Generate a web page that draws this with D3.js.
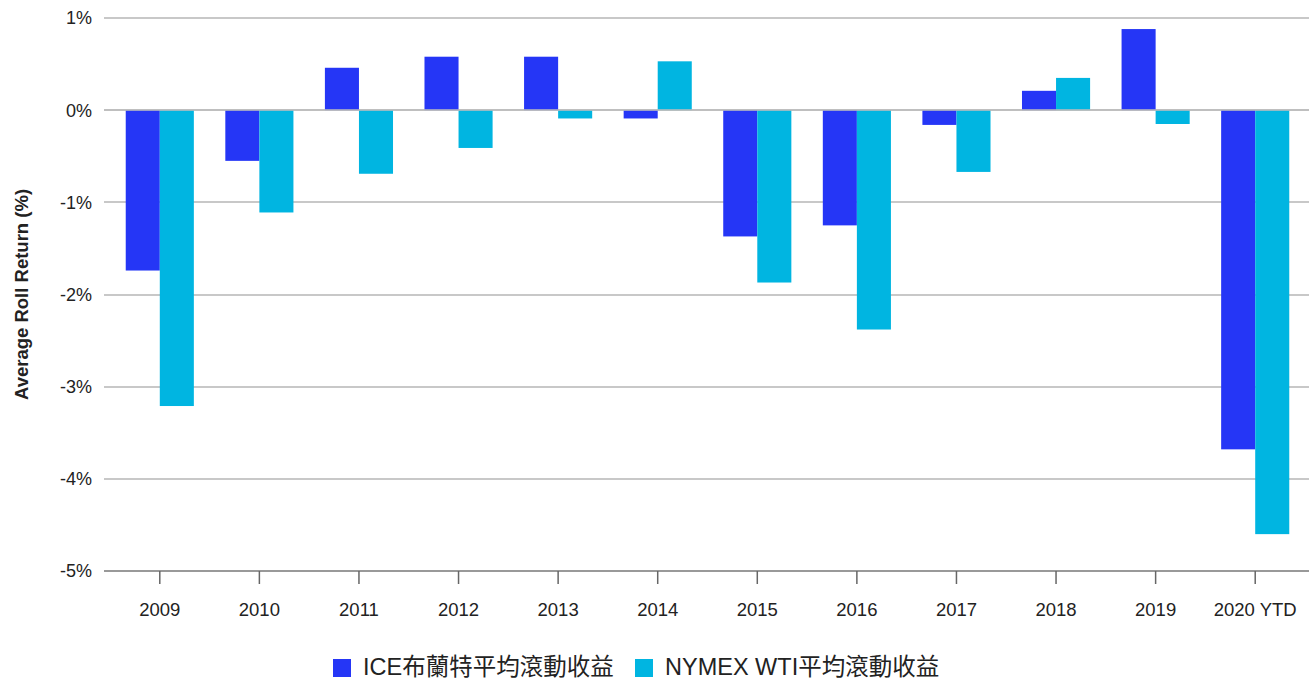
<!DOCTYPE html>
<meta charset="utf-8">
<style>
body { margin:0; background:#fff; font-family:"Liberation Sans",Arial,sans-serif; }
.grid line { stroke:#c8c8c8; stroke-width:1.5px; shape-rendering:crispEdges; }
</style>
<body>
<svg width="1309" height="680"></svg>
<script src="https://d3js.org/d3.v7.min.js"></script>
<script>
var years = ["2009","2010","2011","2012","2013","2014","2015","2016","2017","2018","2019","2020 YTD"];
var iceBrent = [-1.74, -0.55, 0.46, 0.58, 0.58, -0.09, -1.37, -1.25, -0.16, 0.21, 0.88, -3.68];
var nymexWti = [-3.21, -1.11, -0.69, -0.41, -0.09, 0.53, -1.87, -2.38, -0.67, 0.35, -0.15, -4.60];
var yTicks = [1, 0, -1, -2, -3, -4, -5];
var seriesNames = ["ICE布蘭特平均滾動收益", "NYMEX WTI平均滾動收益"];
var colors = ["#2536f6", "#00b5e1"];

var font = "'Liberation Sans', Arial, sans-serif";
var svg = d3.select("svg");

var x = d3.scaleBand().domain(years).range([110, 1305]).paddingInner(0.316).paddingOuter(0.158);
var y = d3.scaleLinear().domain([-5, 1]).range([571, 18]);

// gridlines
svg.append("g").attr("class", "grid")
  .selectAll("line").data(yTicks.filter(function(d){ return d !== -5; }))
  .enter().append("line")
    .attr("x1", 104).attr("x2", 1309)
    .attr("y1", function(d){ return Math.round(y(d)); })
    .attr("y2", function(d){ return Math.round(y(d)); });

// y labels
svg.append("g").selectAll("text").data(yTicks).enter().append("text")
  .attr("x", 92).attr("y", function(d){ return y(d); })
  .attr("dy", "0.36em").attr("text-anchor", "end")
  .attr("font-size", 18).attr("font-family", font).attr("fill", "#222")
  .text(function(d){ return d + "%"; });

svg.append("text")
  .attr("transform", "translate(28," + y(-2) + ") rotate(-90)")
  .attr("text-anchor", "middle")
  .attr("font-size", 18.5).attr("font-weight", "bold").attr("font-family", font).attr("fill", "#222")
  .text("Average Roll Return (%)");

var data = years.map(function(d, i){ return {year:d, vals:[iceBrent[i], nymexWti[i]]}; });
var xs = d3.scaleBand().domain([0,1]).range([0, x.bandwidth()]);

var groups = svg.append("g").selectAll("g").data(data).enter().append("g")
  .attr("transform", function(d){ return "translate(" + x(d.year) + ",0)"; });
groups.selectAll("rect").data(function(d){ return d.vals; }).enter().append("rect")
  .attr("x", function(d, i){ return xs(i); })
  .attr("width", xs.bandwidth())
  .attr("y", function(d){ return y(Math.max(0, d)); })
  .attr("height", function(d){ return Math.abs(y(d) - y(0)); })
  .attr("fill", function(d, i){ return colors[i]; });

// bottom axis
var xAxis = d3.axisBottom(x).tickSize(13).tickSizeOuter(0).tickPadding(19);
var ax = svg.append("g").attr("transform", "translate(0,571)").call(xAxis);
ax.select(".domain").attr("d", "M104,0H1309").attr("stroke", "#777").attr("stroke-width", 1.5);
ax.selectAll(".tick line").attr("stroke", "#666").attr("stroke-width", 1.5);
ax.selectAll(".tick text").attr("font-size", 18.5).attr("font-family", font).attr("fill", "#222");

// zero line on top
svg.append("line").attr("x1", 104).attr("x2", 1309)
  .attr("y1", Math.round(y(0))).attr("y2", Math.round(y(0)))
  .attr("stroke", "#bdbdbd").attr("stroke-width", 1.5);

// legend
var legX = [333, 635];
var leg = svg.append("g").selectAll("g").data(seriesNames).enter().append("g")
  .attr("transform", function(d, i){ return "translate(" + legX[i] + ",659)"; });
leg.append("rect").attr("width", 18).attr("height", 18)
  .attr("fill", function(d, i){ return colors[i]; });
leg.append("text").attr("x", 30).attr("y", 16)
  .attr("font-size", 23.5).attr("fill", "#222")
  .attr("font-family", "'Liberation Sans', 'Noto Sans CJK TC', sans-serif")
  .text(function(d){ return d; });
</script>
</body>
